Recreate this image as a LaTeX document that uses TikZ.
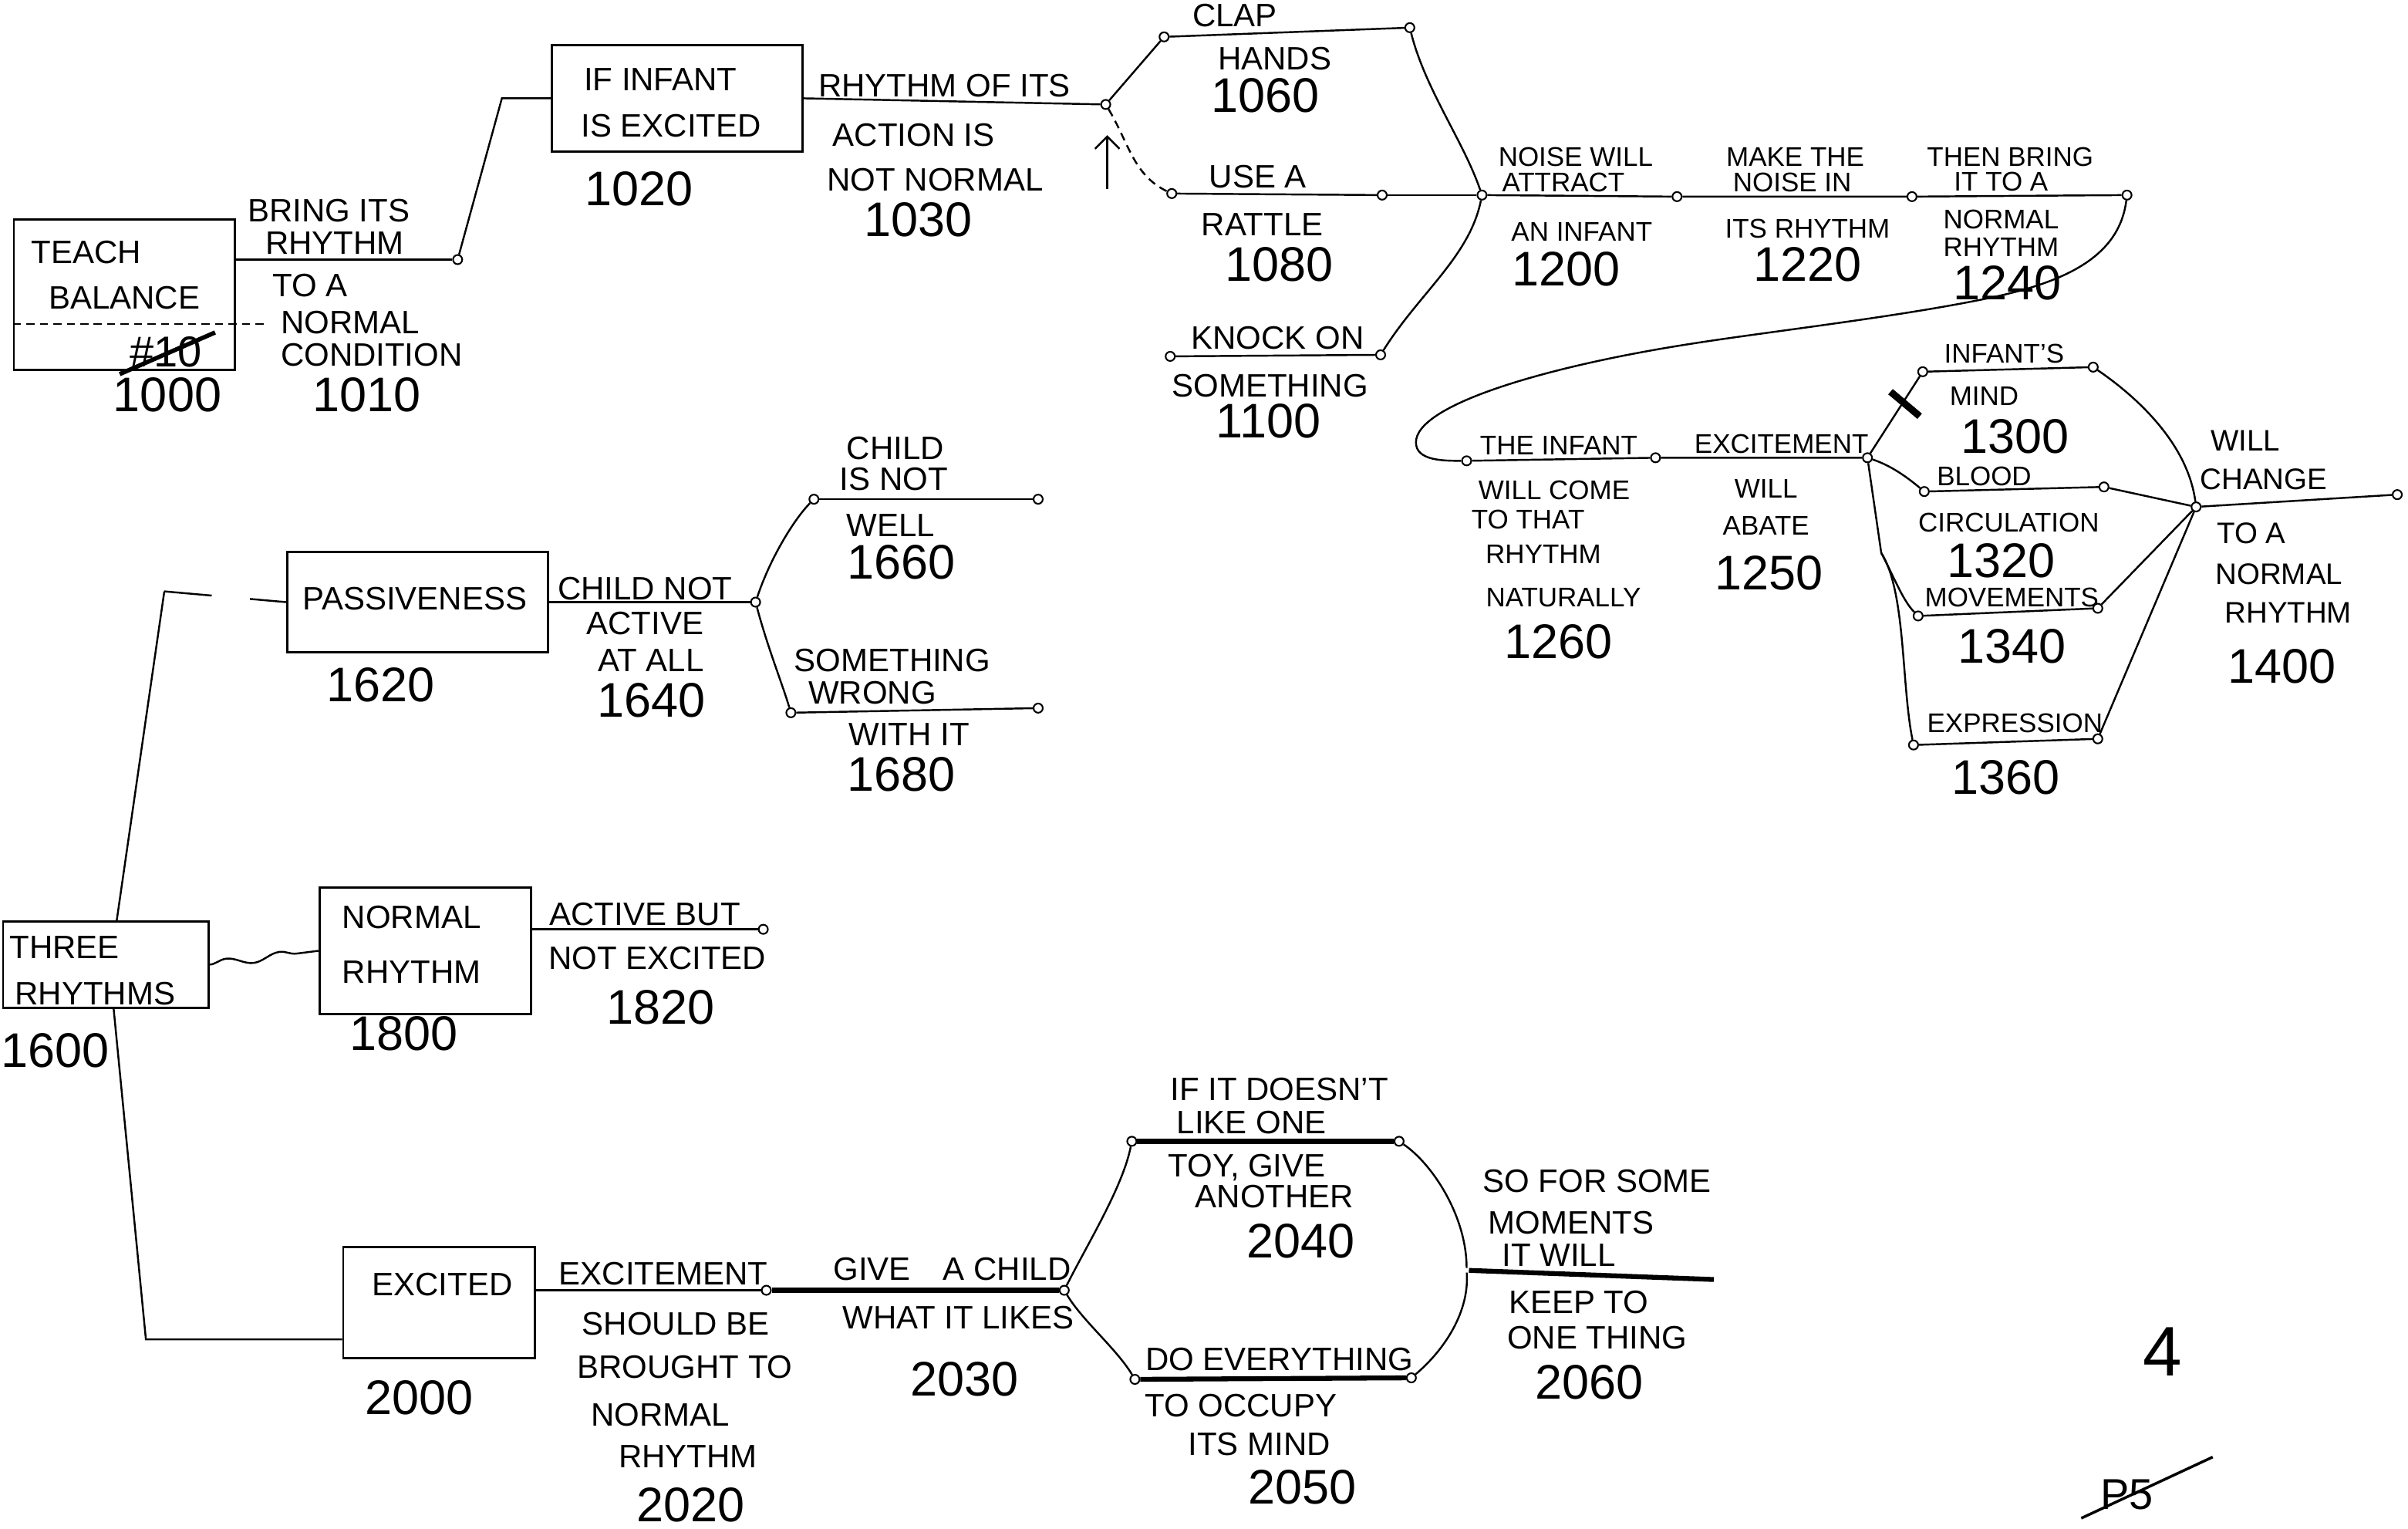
\documentclass[tikz,border=0pt]{standalone}
\usepackage{fontspec}
\setmainfont{Liberation Sans}
\usetikzlibrary{calc,decorations.pathmorphing,arrows.meta}
\begin{document}
\begin{tikzpicture}[x=0.02cm,y=-0.02cm,line width=0.7pt,
  lab/.style={font=\fontsize{12}{14}\selectfont,inner sep=0pt},
  mlab/.style={font=\fontsize{11}{13}\selectfont,inner sep=0pt},
  slab/.style={font=\fontsize{10}{12}\selectfont,inner sep=0pt},
  num/.style={font=\fontsize{18}{20}\selectfont,inner sep=0pt},
  dot/.style={circle,draw,fill=white,minimum size=0.12cm,inner sep=0pt,line width=0.6pt},
  hub/.style={circle,inner sep=0pt,minimum size=1pt},
  box/.style={draw,line width=0.8pt,inner sep=0pt},
  heavy/.style={line width=1.8pt}]
\useasboundingbox (0,0) rectangle (1568,995);

% ---------- boxes ----------
\node[box,minimum width=2.88cm,minimum height=1.96cm] (teach) at (81,192) {};
\node[box,minimum width=3.26cm,minimum height=1.38cm] (ifb) at (441,64) {};
\node[box,minimum width=3.4cm,minimum height=1.3cm] (passive) at (272,392) {};
\node[box,minimum width=2.68cm,minimum height=1.12cm] (three) at (69,628) {};
\node[box,minimum width=2.76cm,minimum height=1.64cm] (normal) at (277,619) {};
\node[box,minimum width=2.5cm,minimum height=1.44cm] (excited) at (286,848) {};

% ---------- junction dots ----------
\node[dot] (c1010) at (298,169) {};
\node[dot] (c1030) at (720,68) {};
\node[dot] (clapL) at (758,24) {};
\node[dot] (clapR) at (918,18) {};
\node[dot] (useL) at (763,126) {};
\node[dot] (useR) at (900,127) {};
\node[dot] (knockL) at (762,232) {};
\node[dot] (knockR) at (899,231) {};
\node[dot] (n1200) at (965,127) {};
\node[dot] (c1200) at (1092,128) {};
\node[dot] (c1220) at (1245,128) {};
\node[dot] (c1240) at (1385,127) {};
\node[dot] (infL) at (955,300) {};
\node[dot] (c1260) at (1078,298) {};
\node[dot] (n1250) at (1216,298) {};
\node[dot] (mindL) at (1252,242) {};
\node[dot] (mindR) at (1363,239) {};
\node[dot] (bloodL) at (1253,320) {};
\node[dot] (bloodR) at (1370,317) {};
\node[dot] (movL) at (1249,401) {};
\node[dot] (movR) at (1366,396) {};
\node[dot] (exprL) at (1246,485) {};
\node[dot] (exprR) at (1366,481) {};
\node[dot] (n1400) at (1430,330) {};
\node[dot] (endR) at (1561,322) {};
\node[dot] (c1640) at (492,392) {};
\node[dot] (childL) at (530,325) {};
\node[dot] (childR) at (676,325) {};
\node[dot] (somL) at (515,464) {};
\node[dot] (somR) at (676,461) {};
\node[dot] (c1820) at (497,605) {};
\node[dot] (c2020) at (499,840) {};
\node[dot] (n2030) at (693,840) {};
\node[dot] (ifL) at (737,743) {};
\node[dot] (ifR) at (911,743) {};
\node[dot] (doL) at (739,898) {};
\node[dot] (doR) at (919,897) {};
\node[hub] (n2060) at (955,827) {};
\coordinate (endB) at (1116,833);
\coordinate (arrS) at (721,123);
\coordinate (trTop) at (107,385);
\coordinate (trBot) at (95,872);
\coordinate (split) at (1225,360);

% ---------- top connectors ----------
\draw[densely dashed] ($(teach.west)+(0,19)$) -- ($(teach.east)+(0,19)$) -- ++(18,0);
\draw (teach.east |- c1010) -- (c1010);
\draw (c1010) -- ($(ifb.west)+(-32,0)$) -- (ifb.west);
\draw (ifb.east) -- (c1030);
\draw (c1030) -- (clapL);
\draw (clapL) -- (clapR);
\draw[densely dashed] (c1030) .. controls +(15,25) and +(-25,-12) .. (useL);
\draw (useL) -- (useR);
\draw[-{Straight Barb[length=1.6mm]}] (arrS) -- ($(c1030)+(1,20)$);
\draw (knockL) -- (knockR);
\draw (clapR) .. controls +(10,40) and +(-12,-35) .. (n1200);
\draw (useR) -- (n1200);
\draw (knockR) .. controls +(25,-40) and +(-8,40) .. (n1200);
\draw (n1200) -- (c1200) -- (c1220) -- (c1240);
\draw (c1240) .. controls +(-5,40) and +(45,-10) .. (1300,193)
      .. controls +(-60,13) and +(50,-8) .. (1100,224)
      .. controls +(-90,14) and +(0,-25) .. (922,288)
      .. controls +(0,12) and +(-15,0) .. (infL);
\draw (infL) -- (c1260) -- (n1250);
\draw (n1250) -- (mindL);
\draw (mindL) -- (mindR);
\draw (mindR) .. controls +(22,15) and +(-6,-45) .. (n1400);
\draw (n1250) .. controls +(15,5) and +(-12,-10) .. (bloodL);
\draw (bloodL) -- (bloodR) -- (n1400);
\draw (n1250) -- (split);
\draw (split) .. controls +(8,15) and +(-10,-10) .. (movL);
\draw (split) .. controls +(16,25) and +(-8,-40) .. (exprL);
\draw (movL) -- (movR) -- (n1400);
\draw (exprL) -- (exprR) -- (n1400);
\draw (n1400) -- (endR);
\draw[line width=2.6pt] (1231,255) -- (1250,271);

% ---------- middle / bottom connectors ----------
\draw ($(three.north)+(7,0)$) -- (trTop);
\draw[dash pattern=on 0.62cm off 0.5cm on 3cm] (trTop) -- (passive.west);
\draw[decorate,decoration={snake,amplitude=0.5mm,segment length=7mm}] (three.east) -- (normal.west);
\draw ($(three.south)+(5,0)$) -- (trBot) -- (excited.west |- trBot);
\draw (passive.east) -- (c1640);
\draw (c1640) .. controls +(10,-30) and +(-12,12) .. (childL);
\draw (childL) -- (childR);
\draw (c1640) .. controls +(8,30) and +(-6,-20) .. (somL);
\draw (somL) -- (somR);
\draw (normal.east |- c1820) -- (c1820);
\draw (excited.east |- c2020) -- (c2020);
\draw[heavy] (c2020) -- (n2030);
\draw (n2030) .. controls +(15,-30) and +(-6,30) .. (ifL);
\draw (n2030) .. controls +(12,20) and +(-12,-20) .. (doL);
\draw[heavy] (ifL) -- (ifR);
\draw[heavy] (doL) -- (doR);
\draw (ifR) .. controls +(22,15) and +(0,-35) .. (n2060);
\draw (doR) .. controls +(18,-15) and +(2,30) .. (n2060);
\draw[heavy] (n2060) -- (endB);

% ---------- box texts ----------
\node[lab] (tTeach) at (56,164) {TEACH};
\node[lab] (tBal) at (81,194) {BALANCE};
\node[font=\fontsize{16}{18}\selectfont,inner sep=0pt] (tTen) at (108,229) {\#10};
\draw[line width=1.6pt] ($(tTen.south west)+(-6,4)$) -- ($(tTen.north east)+(8,-2)$);
\node[num] (t1000) at (109,257) {1000};
\node[lab] (tIf1) at (430,52) {IF INFANT};
\node[lab] (tIf2) at (437,82) {IS EXCITED};
\node[num] (t1020) at (416,123) {1020};
\node[lab] (tPass) at (270,390) {PASSIVENESS};
\node[num] (t1620) at (248,446) {1620};
\node[lab] (tThree1) at (42,617) {THREE};
\node[lab] (tThree2) at (62,647) {RHYTHMS};
\node[num] (t1600) at (36,684) {1600};
\node[lab] (tNorm1) at (268,597) {NORMAL};
\node[lab] (tNorm2) at (268,633) {RHYTHM};
\node[num] (t1800) at (263,673) {1800};
\node[lab] (tExc) at (288,836) {EXCITED};
\node[num] (t2000) at (273,910) {2000};

% ---------- connector texts (top) ----------
\node[lab] (a1) at (214,137) {BRING ITS};
\node[lab] (a2) at (218,158) {RHYTHM};
\node[lab] (a3) at (202,186) {TO A};
\node[lab] (a4) at (228,210) {NORMAL};
\node[lab] (a5) at (242,231) {CONDITION};
\node[num] (t1010) at (239,257) {1010};
\node[lab] (b1) at (615,56) {RHYTHM OF ITS};
\node[lab] (b2) at (595,88) {ACTION IS};
\node[lab] (b3) at (609,117) {NOT NORMAL};
\node[num] (t1030) at (598,143) {1030};
\node[lab] (d1) at (804,10) {CLAP};
\node[lab] (d2) at (830,38) {HANDS};
\node[num] (t1060) at (824,62) {1060};
\node[lab] (e1) at (819,115) {USE A};
\node[lab] (e2) at (822,146) {RATTLE};
\node[num] (t1080) at (833,172) {1080};
\node[lab] (f1) at (832,220) {KNOCK ON};
\node[lab] (f2) at (827,251) {SOMETHING};
\node[num] (t1100) at (826,274) {1100};
\node[slab] (g1) at (1026,102) {NOISE WILL};
\node[slab] (g2) at (1018,119) {ATTRACT};
\node[slab] (g3) at (1030,151) {AN INFANT};
\node[num] (t1200) at (1020,175) {1200};
\node[slab] (h1) at (1169,102) {MAKE THE};
\node[slab] (h2) at (1167,119) {NOISE IN};
\node[slab] (h3) at (1177,149) {ITS RHYTHM};
\node[num] (t1220) at (1177,172) {1220};
\node[slab] (i1) at (1309,102) {THEN BRING};
\node[slab] (i2) at (1303,118) {IT TO A};
\node[slab] (i3) at (1303,143) {NORMAL};
\node[slab] (i4) at (1303,161) {RHYTHM};
\node[num] (t1240) at (1307,184) {1240};
\node[slab] (j1) at (1015,290) {THE INFANT};
\node[slab] (j2) at (1012,319) {WILL COME};
\node[slab] (j3) at (995,338) {TO THAT};
\node[slab] (j4) at (1005,361) {RHYTHM};
\node[slab] (j5) at (1018,389) {NATURALLY};
\node[num] (t1260) at (1015,418) {1260};
\node[slab] (k1) at (1160,289) {EXCITEMENT};
\node[slab] (k2) at (1150,318) {WILL};
\node[slab] (k3) at (1150,342) {ABATE};
\node[num] (t1250) at (1152,373) {1250};
\node[slab] (m1) at (1305,230) {INFANT'S};
\node[slab] (m2) at (1292,258) {MIND};
\node[num] (t1300) at (1312,284) {1300};
\node[slab] (o1) at (1292,310) {BLOOD};
\node[slab] (o2) at (1308,340) {CIRCULATION};
\node[num] (t1320) at (1303,365) {1320};
\node[slab] (p1) at (1310,389) {MOVEMENTS};
\node[num] (t1340) at (1310,421) {1340};
\node[slab] (q1) at (1312,471) {EXPRESSION};
\node[num] (t1360) at (1306,506) {1360};
\node[mlab] (r1) at (1462,287) {WILL};
\node[mlab] (r2) at (1474,312) {CHANGE};
\node[mlab] (r3) at (1466,347) {TO A};
\node[mlab] (r4) at (1484,374) {NORMAL};
\node[mlab] (r5) at (1490,399) {RHYTHM};
\node[num] (t1400) at (1486,434) {1400};

% ---------- connector texts (middle) ----------
\node[lab] (s1) at (420,383) {CHILD NOT};
\node[lab] (s2) at (420,406) {ACTIVE};
\node[lab] (s3) at (424,430) {AT ALL};
\node[num] (t1640) at (424,456) {1640};
\node[lab] (u1) at (583,292) {CHILD};
\node[lab] (u2) at (582,312) {IS NOT};
\node[lab] (u3) at (580,342) {WELL};
\node[num] (t1660) at (587,366) {1660};
\node[lab] (v1) at (581,430) {SOMETHING};
\node[lab] (v2) at (568,451) {WRONG};
\node[lab] (v3) at (592,478) {WITH IT};
\node[num] (t1680) at (587,504) {1680};
\node[lab] (w1) at (420,595) {ACTIVE BUT};
\node[lab] (w2) at (428,624) {NOT EXCITED};
\node[num] (t1820) at (430,656) {1820};

% ---------- connector texts (bottom) ----------
\node[lab] (x1) at (432,829) {EXCITEMENT};
\node[lab] (x2) at (440,862) {SHOULD BE};
\node[lab] (x3) at (446,890) {BROUGHT TO};
\node[lab] (x4) at (430,921) {NORMAL};
\node[lab] (x5) at (448,948) {RHYTHM};
\node[num] (t2020) at (450,980) {2020};
\node[lab] (y1) at (620,826) {GIVE\quad A CHILD};
\node[lab] (y2) at (624,858) {WHAT IT LIKES};
\node[num] (t2030) at (628,898) {2030};
\node[lab] (z1) at (833,709) {IF IT DOESN'T};
\node[lab] (z2) at (815,731) {LIKE ONE};
\node[lab] (z3) at (812,760) {TOY, GIVE};
\node[lab] (z4) at (830,779) {ANOTHER};
\node[num] (t2040) at (847,808) {2040};
\node[lab] (zz1) at (833,885) {DO EVERYTHING};
\node[lab] (zz2) at (808,915) {TO OCCUPY};
\node[lab] (zz3) at (820,940) {ITS MIND};
\node[num] (t2050) at (848,968) {2050};
\node[lab] (q2a) at (1040,769) {SO FOR SOME};
\node[lab] (q2b) at (1023,796) {MOMENTS};
\node[lab] (q2c) at (1015,817) {IT WILL};
\node[lab] (q2d) at (1028,848) {KEEP TO};
\node[lab] (q2e) at (1040,871) {ONE THING};
\node[num] (t2060) at (1035,900) {2060};

% ---------- page marks ----------
\node[font=\fontsize{26}{28}\selectfont,inner sep=0pt] (pg4) at (1408,880) {4};
\node[font=\fontsize{16}{18}\selectfont,inner sep=0pt] (p5) at (1385,973) {P5};
\draw[line width=1pt] ($(p5.south west)+(-12,5)$) -- ($(p5.north east)+(38,-14)$);
\end{tikzpicture}
\end{document}
